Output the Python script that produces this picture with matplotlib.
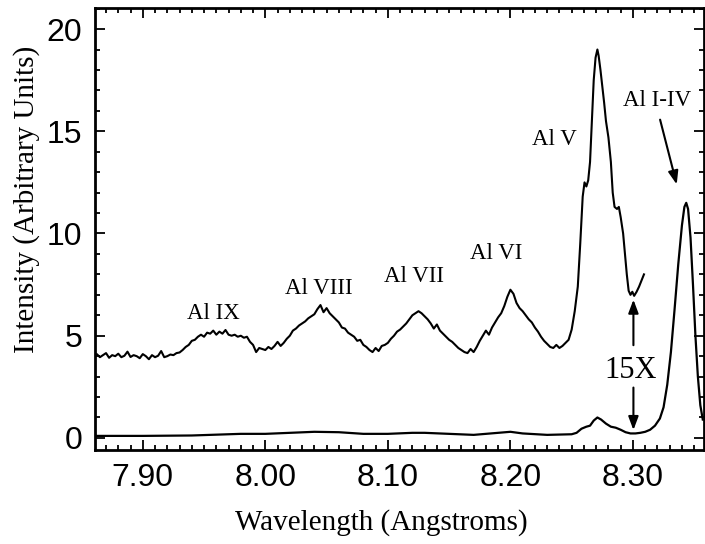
import matplotlib
matplotlib.use("Agg")
from matplotlib import pyplot as plt
from matplotlib.ticker import MultipleLocator

# upper trace (15X magnified, offset) - (wavelength, intensity)
upper_pts = [
    (7.8600, 4.00), (7.8625, 4.10), (7.8650, 3.95), (7.8675, 4.05), (7.8700, 4.15),
    (7.8725, 3.92), (7.8750, 4.05), (7.8775, 4.00), (7.8800, 4.12), (7.8825, 3.95),
    (7.8850, 4.02), (7.8875, 4.22), (7.8900, 3.96), (7.8925, 4.05), (7.8950, 4.00),
    (7.8975, 3.90), (7.9000, 4.10), (7.9025, 4.00), (7.9050, 3.85), (7.9075, 4.05),
    (7.9100, 3.95), (7.9125, 4.02), (7.9150, 4.25), (7.9175, 3.95), (7.9200, 4.00),
    (7.9225, 4.08), (7.9250, 4.05), (7.9275, 4.15), (7.9300, 4.18), (7.9325, 4.30),
    (7.9350, 4.45), (7.9375, 4.55), (7.9400, 4.75), (7.9425, 4.80), (7.9450, 4.95),
    (7.9475, 5.05), (7.9500, 4.95), (7.9525, 5.15), (7.9550, 5.10), (7.9575, 5.25),
    (7.9600, 5.05), (7.9625, 5.20), (7.9650, 5.10), (7.9675, 5.28), (7.9700, 5.05),
    (7.9725, 5.00), (7.9750, 5.05), (7.9775, 4.95), (7.9800, 5.00), (7.9825, 4.90),
    (7.9850, 4.95), (7.9875, 4.70), (7.9900, 4.55), (7.9925, 4.20), (7.9950, 4.40),
    (7.9975, 4.35), (8.0000, 4.30), (8.0025, 4.45), (8.0050, 4.35), (8.0075, 4.50),
    (8.0100, 4.70), (8.0125, 4.50), (8.0150, 4.65), (8.0175, 4.85), (8.0200, 5.00),
    (8.0225, 5.25), (8.0250, 5.35), (8.0275, 5.50), (8.0300, 5.60), (8.0325, 5.70),
    (8.0350, 5.85), (8.0375, 5.95), (8.0400, 6.05), (8.0425, 6.30), (8.0450, 6.50),
    (8.0475, 6.15), (8.0500, 6.35), (8.0525, 6.10), (8.0550, 5.95), (8.0575, 5.80),
    (8.0600, 5.65), (8.0625, 5.40), (8.0650, 5.35), (8.0675, 5.15), (8.0700, 5.05),
    (8.0725, 4.95), (8.0750, 4.75), (8.0775, 4.80), (8.0800, 4.55), (8.0825, 4.45),
    (8.0850, 4.30), (8.0875, 4.20), (8.0900, 4.40), (8.0925, 4.25), (8.0950, 4.50),
    (8.0975, 4.55), (8.1000, 4.65), (8.1025, 4.85), (8.1050, 5.00), (8.1075, 5.20),
    (8.1100, 5.30), (8.1125, 5.45), (8.1150, 5.60), (8.1175, 5.80), (8.1200, 6.00),
    (8.1225, 6.10), (8.1250, 6.20), (8.1275, 6.10), (8.1300, 5.95), (8.1325, 5.80),
    (8.1350, 5.60), (8.1375, 5.35), (8.1400, 5.55), (8.1425, 5.25), (8.1450, 5.10),
    (8.1475, 4.95), (8.1500, 4.80), (8.1525, 4.70), (8.1550, 4.55), (8.1575, 4.40),
    (8.1600, 4.30), (8.1625, 4.20), (8.1650, 4.15), (8.1675, 4.35), (8.1700, 4.20),
    (8.1725, 4.45), (8.1750, 4.75), (8.1775, 5.00), (8.1800, 5.25), (8.1825, 5.05),
    (8.1850, 5.40), (8.1875, 5.65), (8.1900, 5.90), (8.1925, 6.10), (8.1950, 6.45),
    (8.1975, 6.90), (8.2000, 7.25), (8.2025, 7.05), (8.2050, 6.60), (8.2075, 6.35),
    (8.2100, 6.20), (8.2125, 6.00), (8.2150, 5.80), (8.2175, 5.65), (8.2200, 5.40),
    (8.2225, 5.20), (8.2250, 4.95), (8.2275, 4.75), (8.2300, 4.60), (8.2325, 4.45),
    (8.2350, 4.40), (8.2375, 4.55), (8.2400, 4.40), (8.2425, 4.50), (8.2450, 4.65),
    (8.2475, 4.80), (8.2500, 5.30), (8.2525, 6.20), (8.2550, 7.40), (8.2570, 9.50),
    (8.2590, 11.80), (8.2605, 12.50), (8.2620, 12.30), (8.2635, 12.60), (8.2650, 13.50),
    (8.2665, 15.50), (8.2680, 17.50), (8.2695, 18.60), (8.2710, 19.00), (8.2720, 18.70),
    (8.2735, 18.00), (8.2750, 17.20), (8.2765, 16.40), (8.2780, 15.50), (8.2800, 14.70),
    (8.2820, 13.50), (8.2835, 12.00), (8.2850, 11.30), (8.2870, 11.20), (8.2885, 11.30),
    (8.2900, 10.80), (8.2920, 10.00), (8.2935, 9.00), (8.2950, 8.00), (8.2965, 7.20),
    (8.2980, 7.00), (8.2995, 7.15), (8.3010, 6.95), (8.3030, 7.15), (8.3050, 7.40),
    (8.3070, 7.70), (8.3090, 8.00),
]

# lower trace (unscaled)
lower_pts = [
    (7.860, 0.10), (7.900, 0.10), (7.940, 0.12), (7.980, 0.20), (8.000, 0.20),
    (8.020, 0.25), (8.040, 0.30), (8.060, 0.28), (8.080, 0.20), (8.100, 0.20),
    (8.120, 0.25), (8.130, 0.25), (8.150, 0.20), (8.170, 0.15), (8.190, 0.25),
    (8.200, 0.30), (8.210, 0.22), (8.230, 0.15), (8.250, 0.18), (8.254, 0.25),
    (8.258, 0.45), (8.262, 0.55), (8.265, 0.60), (8.268, 0.85), (8.271, 1.00),
    (8.274, 0.90), (8.278, 0.70), (8.282, 0.55), (8.286, 0.50), (8.290, 0.40),
    (8.294, 0.28), (8.298, 0.22), (8.302, 0.22), (8.306, 0.25), (8.310, 0.30),
    (8.314, 0.40), (8.318, 0.60), (8.322, 0.95), (8.325, 1.50), (8.328, 2.60),
    (8.331, 4.20), (8.334, 6.30), (8.337, 8.50), (8.340, 10.40), (8.342, 11.30),
    (8.3435, 11.50), (8.345, 11.20), (8.347, 9.80), (8.349, 7.50), (8.351, 5.00),
    (8.353, 3.00), (8.355, 1.60), (8.357, 0.90),
]

# line labels: (text, x, y)
ion_labels = [
    ("Al IX", 7.9576, 6.1),
    ("Al VIII", 8.044, 7.3),
    ("Al VII", 8.1216, 7.9),
    ("Al VI", 8.1886, 9.0),
    ("Al V", 8.2359, 14.6),
]

xticks = [7.90, 8.00, 8.10, 8.20, 8.30]
yticks = [0, 5, 10, 15, 20]

serif = "Liberation Serif"
sans = "Liberation Sans"

fig = plt.figure(figsize=(7.05, 5.44), dpi=100)
ax = fig.add_axes([95 / 705, 94 / 544, 609 / 705, 442 / 544])

ux = [p[0] for p in upper_pts]
uy = [p[1] for p in upper_pts]
lx = [p[0] for p in lower_pts]
ly = [p[1] for p in lower_pts]
ax.plot(ux, uy, color="black", lw=1.5)
ax.plot(lx, ly, color="black", lw=1.6)

ax.set_xlim(7.861, 8.358)
ax.set_ylim(-0.59, 21.03)

ax.set_xticks(xticks)
ax.set_xticklabels(["%.2f" % t for t in xticks], fontfamily=sans, fontsize=23)
ax.set_yticks(yticks)
ax.set_yticklabels([str(t) for t in yticks], fontfamily=sans, fontsize=23)
ax.xaxis.set_minor_locator(MultipleLocator(0.01))
ax.yaxis.set_minor_locator(MultipleLocator(1))
ax.tick_params(which="both", direction="in", top=True, right=True, width=1.3)
ax.tick_params(which="major", length=7, pad=9)
ax.tick_params(which="minor", length=3.5)
for s in ax.spines.values():
    s.set_linewidth(2)

ax.set_xlabel("Wavelength (Angstroms)", fontfamily=serif, fontsize=21)
ax.set_ylabel("Intensity (Arbitrary Units)", fontfamily=serif, fontsize=21)
ax.xaxis.set_label_coords(0.47, -0.133)
ax.yaxis.set_label_coords(-0.09, 0.566)

for txt, x, y in ion_labels:
    ax.text(x, y, txt, fontfamily=serif, fontsize=16.5, ha="center", va="center")

ax.text(8.320, 16.5, "Al I-IV", fontfamily=serif, fontsize=16.5, ha="center", va="center")
arrow = dict(arrowstyle="-|>,head_length=0.8,head_width=0.3", color="black", lw=1.5)
ax.annotate("", xy=(8.3363, 12.27), xytext=(8.3216, 15.7), arrowprops=arrow)

ax.text(8.298, 3.3, "15X", fontfamily=serif, fontsize=22, ha="center", va="center")
ax.annotate("", xy=(8.3004, 6.9), xytext=(8.3004, 4.4), arrowprops=arrow)
ax.annotate("", xy=(8.3004, 0.25), xytext=(8.3004, 2.6), arrowprops=arrow)

fig.savefig("out.png", dpi=100)
